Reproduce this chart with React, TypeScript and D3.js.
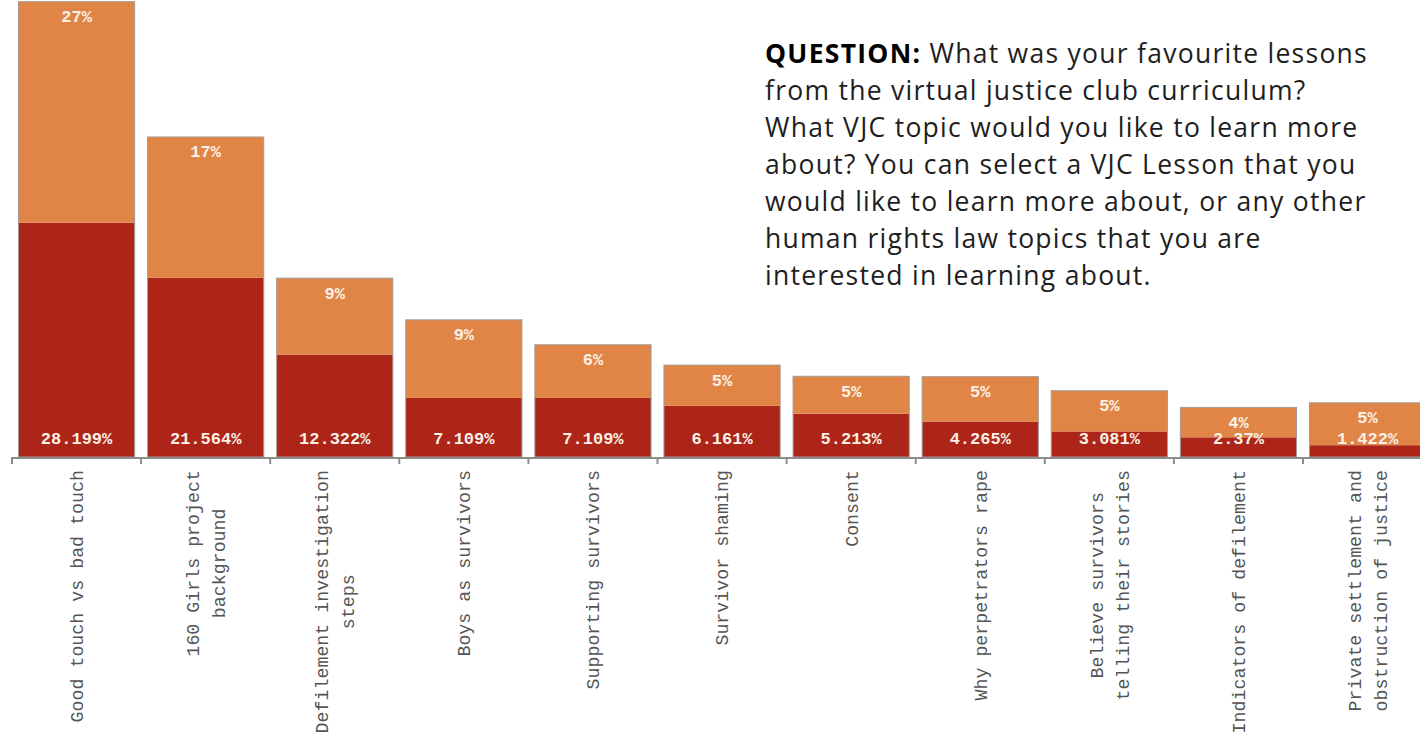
import React from "react";
import * as d3 from "d3";

const categories: string[][] = [
  ["Good touch vs bad touch"],
  ["160 Girls project", "background"],
  ["Defilement investigation", "steps"],
  ["Boys as survivors"],
  ["Supporting survivors"],
  ["Survivor shaming"],
  ["Consent"],
  ["Why perpetrators rape"],
  ["Believe survivors", "telling their stories"],
  ["Indicators of defilement"],
  ["Private settlement and", "obstruction of justice"],
];

const favourite: number[] = [28.199, 21.564, 12.322, 7.109, 7.109, 6.161, 5.213, 4.265, 3.081, 2.37, 1.422];
const learnMore: number[] = [26.6, 16.95, 9.2, 9.4, 6.4, 4.9, 4.5, 5.4, 4.9, 3.6, 5.1];

const questionLines: string[] = [
  "What was your favourite lessons",
  "from the virtual justice club curriculum?",
  "What VJC topic would you like to learn more",
  "about? You can select a VJC Lesson that you",
  "would like to learn more about, or any other",
  "human rights law topics that you are",
  "interested in learning about.",
];

const W = 1420;
const H = 752;
const DARK = "#ad2418";
const ORANGE = "#e08546";
const LABEL = "#fbf1e6";
const MONO = "'Liberation Mono', 'DejaVu Sans Mono', monospace";
const QFONT = "'Open Sans', 'Noto Sans', sans-serif";
const QSIZE = 26.5;

function questionSpacing(): number {
  try {
    const c = document.createElement("canvas");
    const ctx = c.getContext("2d");
    if (!ctx) return 0.8;
    ctx.font = `bold ${QSIZE}px ${QFONT}`;
    const wb = ctx.measureText("QUESTION:").width;
    ctx.font = `${QSIZE}px ${QFONT}`;
    const wr = ctx.measureText(" " + questionLines[0]).width;
    const chars = ("QUESTION: " + questionLines[0]).length;
    const target = 603;
    return Math.max(-1, Math.min(3, (target - wb - wr) / chars));
  } catch (e) {
    return 0.8;
  }
}

export default function App() {
  const idx = categories.map((_, i) => i);
  const x = d3
    .scaleBand<number>()
    .domain(idx)
    .range([12, 12 + 129.1 * categories.length])
    .paddingInner(0.1)
    .paddingOuter(0.05);
  const y = d3.scaleLinear().domain([0, 55]).range([457, 0]);
  const step = x.step();
  const bw = x.bandwidth();
  const baseY = y(0);
  const axisFs = 18.3;
  const charW = axisFs * 0.6;
  const ls = questionSpacing();

  return (
    <svg
      width={W}
      height={H}
      style={{ position: "absolute", left: 0, top: 0, background: "#fff" }}
    >
      {idx.map((i) => {
        const x0 = x(i)!;
        const d = favourite[i];
        const l = learnMore[i];
        const yd = y(d);
        const yt = y(d + l);
        const cx = x0 + bw / 2;
        return (
          <g key={i}>
            <rect x={x0} y={yd} width={bw} height={baseY - yd} fill={DARK} />
            <rect x={x0} y={yt} width={bw} height={yd - yt} fill={ORANGE} />
            <rect
              x={x0}
              y={yt}
              width={bw}
              height={baseY - yt}
              fill="none"
              stroke="#a49a94"
              strokeWidth={1}
            />
            <text
              x={cx}
              y={yt + 20.5}
              textAnchor="middle"
              fontFamily={MONO}
              fontWeight="bold"
              fontSize={17}
              fill={LABEL}
            >
              {Math.round(l) + "%"}
            </text>
            <text
              x={cx}
              y={baseY - 13}
              textAnchor="middle"
              fontFamily={MONO}
              fontWeight="bold"
              fontSize={17}
              fill={LABEL}
            >
              {d + "%"}
            </text>
          </g>
        );
      })}

      {/* x axis */}
      <line x1={12} x2={W} y1={baseY + 1} y2={baseY + 1} stroke="#8c8c8c" strokeWidth={2} />
      {idx.map((i) => {
        const tx = x(i)! - step * 0.05;
        return (
          <line key={"t" + i} x1={tx} x2={tx} y1={baseY} y2={baseY + 7} stroke="#8c8c8c" strokeWidth={2} />
        );
      })}
      {idx.map((i) => {
        const lines = categories[i];
        const cx = x(i)! + bw / 2;
        const maxLen = d3.max(lines, (s) => s.length)! * charW;
        const n = lines.length;
        const lineSp = 26;
        return (
          <g key={"l" + i} transform={`translate(${cx},${470}) rotate(-90)`}>
            {lines.map((s, j) => (
              <text
                key={j}
                x={-maxLen / 2}
                y={(j - (n - 1) / 2) * lineSp}
                dy="0.35em"
                textAnchor="middle"
                fontFamily={MONO}
                fontSize={axisFs}
                fill="#555"
              >
                {s}
              </text>
            ))}
          </g>
        );
      })}

      {/* question */}
      <g fontFamily={QFONT} fontSize={QSIZE} fill="#1e1e1e" letterSpacing={ls}>
        {questionLines.map((s, j) => (
          <text key={j} x={765} y={63 + j * 37}>
            {j === 0 ? (
              <>
                <tspan fontWeight="bold" fill="#000">QUESTION:</tspan>
                <tspan> {s}</tspan>
              </>
            ) : (
              s
            )}
          </text>
        ))}
      </g>
    </svg>
  );
}
